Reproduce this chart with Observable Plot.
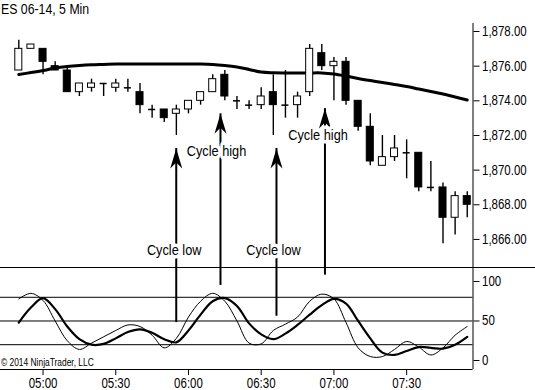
<!DOCTYPE html>
<html><head><meta charset="utf-8">
<script src="https://cdn.jsdelivr.net/npm/d3@7"></script>
<script src="https://cdn.jsdelivr.net/npm/@observablehq/plot@0.6"></script>
<style>
body{margin:0;background:#fff;}
#wrap{position:relative;width:535px;height:390px;overflow:hidden;background:#fff;font-family:"Liberation Sans",Arial,sans-serif;color:#000;}
#title{position:absolute;left:1px;top:1px;font-size:15px;line-height:16px;white-space:nowrap;transform:scaleX(0.82);transform-origin:0 0;}
#copy{position:absolute;left:1px;top:357px;font-size:10.5px;line-height:11px;white-space:nowrap;transform:scaleX(0.8);transform-origin:0 0;}
.p{position:absolute;left:0;}
</style></head><body>
<div id="wrap"><div id="title">ES 06-14, 5 Min</div></div>
<script>
// ---- data ----
const barIndex = d3.range(38);
const opens  = [1875.75,1877.0,1877.0,1876.0,1875.75,1874.5,1874.75,1875.0,1874.75,1874.75,1874.5,1873.5,1873.5,1873.25,1873.5,1874.0,1874.5,1875.5,1874.0,1873.75,1873.75,1874.5,1873.75,1873.75,1874.5,1876.75,1876.0,1876.25,1874.0,1872.5,1870.25,1870.75,1871.0,1871.0,1869.0,1869.0,1867.25,1868.5];
const highs  = [1877.5,1877.25,1877.0,1876.25,1876.0,1875.0,1875.25,1875.0,1875.25,1875.25,1875.0,1873.75,1873.5,1873.75,1874.0,1874.5,1875.5,1875.75,1874.25,1874.0,1874.75,1875.5,1875.75,1874.5,1877.25,1877.25,1876.5,1876.5,1874.0,1873.25,1872.0,1872.0,1871.75,1871.0,1870.5,1869.25,1868.75,1868.75];
const lows   = [1875.75,1877.0,1875.5,1875.75,1874.5,1874.25,1874.5,1874.25,1874.5,1874.5,1873.25,1873.0,1872.75,1872.0,1873.25,1873.75,1874.5,1874.0,1873.5,1873.5,1873.5,1872.0,1873.0,1873.0,1874.25,1875.75,1874.0,1873.75,1872.25,1870.25,1870.25,1870.5,1869.5,1868.75,1868.75,1865.75,1866.25,1867.25];
const closes = [1877.0,1877.25,1876.25,1875.75,1874.5,1875.0,1875.0,1875.0,1875.0,1874.75,1873.75,1873.5,1873.0,1873.5,1874.0,1874.5,1875.25,1874.25,1874.0,1873.75,1874.25,1873.75,1873.75,1874.25,1877.0,1876.0,1876.25,1874.0,1872.5,1870.5,1870.75,1871.25,1871.0,1869.0,1869.0,1867.25,1868.5,1868.0];
const movingAvg = [1875.52,1875.63,1875.75,1875.89,1875.98,1876.04,1876.08,1876.10,1876.12,1876.12,1876.12,1876.12,1876.12,1876.12,1876.12,1876.12,1876.10,1876.04,1875.95,1875.81,1875.66,1875.62,1875.61,1875.61,1875.61,1875.61,1875.55,1875.43,1875.29,1875.17,1875.06,1874.94,1874.83,1874.68,1874.54,1874.39,1874.22,1874.05];
const oscSlow = [48,67,79,65,43,27,20,21,28,36,39.5,35,27,23,38,58,75,79,69,47,33,27,34,45,58,70,78,72,50,28,10,7,12,17,16,15,20,30];
const oscFast = [78,85,76,50,25,14,22,30,38,45,43,32,16,28,55,75,85,75,50,22,21,38,46,55,75,84,78,48,16,5,5,14,24,17,7,16,32,43];
const timeTickIndex = [2,8,14,20,26,32];
const timeTickLabels = ["05:00","05:30","06:00","06:30","07:00","07:30"];
const priceTicks = [1866,1868,1870,1872,1874,1876,1878];
const oscTicks = [0,50,100];
const oscLevels = [20,50,80];
const arrowIndex = [12.99,16.64,21.26,25.26];
const arrowTip = [1871.25,1873.25,1871.25,1873.55];
const arrowEndOsc = [48,95,56,108];
const labelText = ["Cycle low","Cycle high","Cycle low","Cycle high"];
const labelIndex = [12.82,16.31,21.01,24.69];
const labelPrice = [1865.36,1871.08,1865.36,1872.0];

// ---- tables ----
const candles = barIndex.map(i => ({i, open: opens[i], high: highs[i], low: lows[i], close: closes[i]}));
const bodies = candles.filter(d => d.open !== d.close);
const dojis = candles.filter(d => d.open === d.close);
const maData = barIndex.map(i => ({i, v: movingAvg[i]}));
const slowData = barIndex.map(i => ({i, v: oscSlow[i]}));
const fastData = barIndex.map(i => ({i, v: oscFast[i]}));
const arrows = arrowIndex.map((x, k) => ({x, tip: arrowTip[k], end: arrowEndOsc[k]}));
const labels = labelText.map((t, k) => ({t, x: labelIndex[k], y: labelPrice[k]}));

const W = 535, mR = 62.5;
const xDom = [-1.51, 37.475];
const xFull = xDom[0] + (xDom[1] - xDom[0]) * W / (W - mR);
const yDom = [1864.38, 1879.79];
const axisTop = 1878.46;
const oDom = [-11.4, 117.7];
const half = 0.29;
const font = '"Liberation Sans",Arial,sans-serif';

const arrowHead = {draw(ctx){ ctx.moveTo(0,0); ctx.lineTo(6,20); ctx.lineTo(0,14); ctx.lineTo(-6,20); ctx.closePath(); }};

const style = {background: "transparent", overflow: "visible", fontFamily: font, fontSize: "14px", color: "black"};

const price = Plot.plot({
  width: W, height: 268, marginTop: 0, marginBottom: 1, marginLeft: 0, marginRight: mR,
  style,
  x: {type: "linear", domain: xDom, axis: null},
  y: {domain: yDom, axis: null},
  marks: [
    Plot.ruleY([yDom[0]], {x1: xDom[0], x2: xFull, stroke: "black", strokeWidth: 1}),
    Plot.ruleX([xDom[1]], {y1: axisTop, y2: yDom[0], stroke: "black", strokeWidth: 1}),
    Plot.axisY({anchor: "right", ticks: priceTicks, tickFormat: d3.format(",.2f"), tickSize: 6, tickPadding: 3, fontSize: 14}),
    Plot.line(maData, {x: "i", y: "v", stroke: "black", strokeWidth: 3, curve: "catmull-rom"}),
    Plot.ruleX(candles, {x: "i", y1: "low", y2: "high", stroke: "black", strokeWidth: 1.4}),
    Plot.rect(bodies, {x1: d => d.i - half, x2: d => d.i + half, y1: "open", y2: "close",
      fill: d => d.close > d.open ? "white" : "black", stroke: "black", strokeWidth: 1}),
    Plot.ruleY(dojis, {y: "open", x1: d => d.i - half, x2: d => d.i + half, stroke: "black", strokeWidth: 1.5}),
    Plot.ruleX(arrows, {x: "x", y1: "tip", y2: yDom[0], stroke: "black", strokeWidth: 2}),
    Plot.dot(arrows, {x: "x", y: "tip", symbol: arrowHead, fill: "black", stroke: null}),
    Plot.text(labels, {x: "x", y: "y", text: "t", fontSize: 15, fill: "black", stroke: "white", strokeWidth: 7})
  ]
});
price.classList.add("p");
price.style.top = "0px";

const osc = Plot.plot({
  width: W, height: 123, marginTop: 0, marginBottom: 21, marginLeft: 0, marginRight: mR,
  style,
  x: {type: "linear", domain: xDom, axis: null},
  y: {domain: oDom, axis: null},
  marks: [
    Plot.ruleY(oscLevels, {stroke: "black", strokeWidth: 1}),
    Plot.ruleY([oDom[0]], {stroke: "black", strokeWidth: 1}),
    Plot.ruleX([xDom[1]], {y1: oDom[0], y2: oDom[1], stroke: "black", strokeWidth: 1}),
    Plot.axisY({anchor: "right", ticks: oscTicks, tickFormat: d3.format("d"), tickSize: 6, tickPadding: 3, fontSize: 14}),
    Plot.axisX({anchor: "bottom", ticks: timeTickIndex, tickFormat: i => timeTickLabels[timeTickIndex.indexOf(i)], tickSize: 6, tickPadding: 3, fontSize: 14}),
    Plot.ruleX(arrows, {x: "x", y1: oDom[1], y2: "end", stroke: "black", strokeWidth: 2}),
    Plot.line(fastData, {x: "i", y: "v", stroke: "black", strokeWidth: 1, curve: "catmull-rom"}),
    Plot.line(slowData, {x: "i", y: "v", stroke: "black", strokeWidth: 2.2, curve: "catmull-rom"})
  ]
});
osc.classList.add("p");
osc.style.top = "267px";

const wrap = document.getElementById("wrap");
wrap.appendChild(price);
wrap.appendChild(osc);
const copy = document.createElement("div");
copy.id = "copy";
copy.textContent = "© 2014 NinjaTrader, LLC";
wrap.appendChild(copy);

// narrow the lettering (condensed face look) while keeping real text
for (const svg of [price, osc]) {
  for (const t of svg.querySelectorAll("text")) {
    const len = t.getComputedTextLength();
    const g = t.parentNode && t.parentNode.getAttribute ? t.parentNode.getAttribute("aria-label") : null;
    const f = g === "text" ? 0.85 : 0.82;
    if (len > 0) {
      t.setAttribute("textLength", (len * f).toFixed(2));
      t.setAttribute("lengthAdjust", "spacingAndGlyphs");
    }
  }
}
</script>
</body></html>
